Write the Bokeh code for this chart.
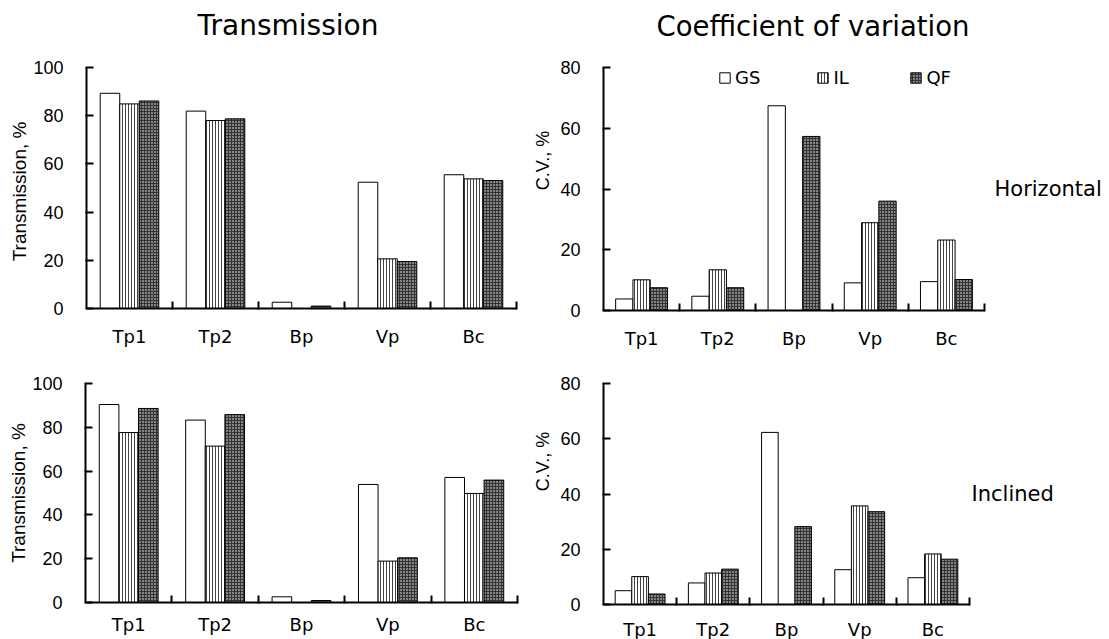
from bokeh.plotting import figure
from bokeh.models import Range1d, FixedTicker, Label, Legend, LegendItem
from bokeh.layouts import column, row
from bokeh.embed import file_html
from bokeh.resources import INLINE

categories = ["Tp1", "Tp2", "Bp", "Vp", "Bc"]
series = ["GS", "IL", "QF"]

# Transmission, % - Horizontal
trans_h_gs = [89.3, 81.9, 2.6, 52.4, 55.5]
trans_h_il = [84.9, 78.0, 0.0, 20.6, 53.8]
trans_h_qf = [86.1, 78.7, 1.0, 19.5, 53.1]
# C.V., % - Horizontal
cv_h_gs = [3.8, 4.7, 67.4, 9.1, 9.5]
cv_h_il = [10.1, 13.4, 0.0, 28.9, 23.2]
cv_h_qf = [7.5, 7.5, 57.3, 36.0, 10.2]
# Transmission, % - Inclined
trans_i_gs = [90.4, 83.3, 2.6, 53.9, 57.1]
trans_i_il = [77.6, 71.4, 0.0, 18.9, 49.8]
trans_i_qf = [88.6, 85.8, 0.9, 20.4, 55.9]
# C.V., % - Inclined
cv_i_gs = [5.0, 7.8, 62.3, 12.6, 9.7]
cv_i_il = [10.1, 11.4, 0.0, 35.7, 18.3]
cv_i_qf = [3.8, 12.8, 28.2, 33.6, 16.4]

trans_ticks = [0, 20, 40, 60, 80, 100]
cv_ticks = [0, 20, 40, 60, 80]

STYLE = {
    "GS": dict(fill_color="white"),
    "IL": dict(fill_color="white", hatch_pattern="vertical_line",
               hatch_color="#444444", hatch_scale=3, hatch_weight=1),
    "QF": dict(fill_color="#333333", hatch_pattern="dot",
               hatch_color="white", hatch_scale=3, hatch_weight=2),
}
BAR_W = 0.227
OFFS = [-BAR_W, 0.0, BAR_W]

NUM_FONT = "Liberation Sans"
TXT_FONT = "DejaVu Sans"


def panel(vals, ymax, yticks, ylabel, fw, ext, fh, top_ext, bl, br, bt, bb,
          xstandoff, ylabel_size, ylabel_standoff, title=None, title_x=0,
          title_size="28px", side=None, side_offset=10, legend=False):
    n = len(categories)
    x_end = n * (fw + ext) / fw
    y_end = ymax * (fh + top_ext) / fh
    p = figure(frame_width=fw + ext, frame_height=fh + top_ext,
               output_backend="svg", toolbar_location=None,
               x_range=Range1d(0, x_end), y_range=Range1d(0, y_end),
               min_border_left=bl, min_border_right=br,
               min_border_top=bt, min_border_bottom=bb)
    p.outline_line_color = None
    p.grid.visible = False
    p.background_fill_color = "white"
    p.border_fill_color = "white"
    rends = []
    for k, s in enumerate(series):
        xs = [i + 0.5 + OFFS[k] for i in range(n)]
        r = p.vbar(x=xs, top=vals[k], width=BAR_W, bottom=0,
                   line_color="black", line_width=1, **STYLE[s])
        rends.append(r)
    # x axis
    xa = p.xaxis[0]
    xa.bounds = (0, n)
    xa.ticker = FixedTicker(ticks=[i + 0.5 for i in range(n)],
                            minor_ticks=list(range(1, n + 1)))
    xa.major_label_overrides = {i + 0.5: c for i, c in enumerate(categories)}
    xa.major_tick_in = 0
    xa.major_tick_out = 0
    xa.minor_tick_in = 7
    xa.minor_tick_out = 1
    xa.minor_tick_line_width = 2
    xa.axis_line_width = 2
    xa.major_label_standoff = xstandoff
    xa.major_label_text_font = TXT_FONT
    xa.major_label_text_font_size = "18px"
    xa.major_label_text_color = "black"
    # y axis
    ya = p.yaxis[0]
    ya.bounds = (0, ymax)
    ya.ticker = FixedTicker(ticks=yticks, minor_ticks=[])
    ya.major_tick_in = 7
    ya.major_tick_out = 1
    ya.major_tick_line_width = 2
    ya.axis_line_width = 2
    ya.major_label_standoff = 22
    ya.major_label_text_font = NUM_FONT
    ya.major_label_text_font_size = "18px"
    ya.major_label_text_color = "black"
    ya.axis_label = ylabel
    ya.axis_label_text_font = NUM_FONT
    ya.axis_label_text_font_size = ylabel_size
    ya.axis_label_text_font_style = "normal"
    ya.axis_label_text_color = "black"
    ya.axis_label_standoff = ylabel_standoff
    if title:
        # title sits above the top of the value area
        p.add_layout(Label(x=0, y=ymax * (1 + 42 / fh), x_offset=title_x,
                           text=title, text_font=TXT_FONT,
                           text_font_size=title_size, text_color="black",
                           text_baseline="alphabetic", text_align="left"))
    if side:
        p.add_layout(Label(x=n, y=ymax / 2, x_offset=side_offset, text=side,
                           text_font=TXT_FONT, text_font_size="21px",
                           text_baseline="middle", text_color="black"))
    if legend:
        items = [LegendItem(label=s, renderers=[r]) for s, r in zip(series, rends)]
        lg = Legend(items=items, orientation="horizontal", location=(115, 222),
                    padding=0, margin=0, spacing=56, glyph_width=13,
                    glyph_height=13, label_standoff=4,
                    label_text_font=TXT_FONT, label_text_font_size="18px",
                    label_text_color="black",
                    background_fill_alpha=0, border_line_alpha=0)
        p.add_layout(lg)
    return p


NB = "\u00a0"
tl = panel([trans_h_gs, trans_h_il, trans_h_qf], 100, trans_ticks,
           "Transmission, %" + NB * 14, 430, 0, 241, 67, 86, 14, 0, 52, 16,
           "19px", 0, title="Transmission", title_x=111, title_size="28px")
tr = panel([cv_h_gs, cv_h_il, cv_h_qf], 80, cv_ticks, "C.V., %" + NB * 2,
           381, 118, 243, 67, 72, 8, 0, 50, 16, "18px", 4,
           title="Coefficient of variation", title_x=53, title_size="27.5px",
           side="Horizontal", side_offset=10, legend=True)
bl = panel([trans_i_gs, trans_i_il, trans_i_qf], 100, trans_ticks,
           "Transmission, %", 432, 0, 219, 0, 85, 13, 22, 38, 10, "19px", 0)
br = panel([cv_i_gs, cv_i_il, cv_i_qf], 80, cv_ticks, NB * 13 + "C.V., %",
           366, 136, 221, 0, 69, 8, 23, 35, 13, "18px", 4,
           side="Inclined", side_offset=2)

layout = column(row(tl, tr), row(bl, br))
open("out.html", "w").write(file_html(layout, INLINE))
